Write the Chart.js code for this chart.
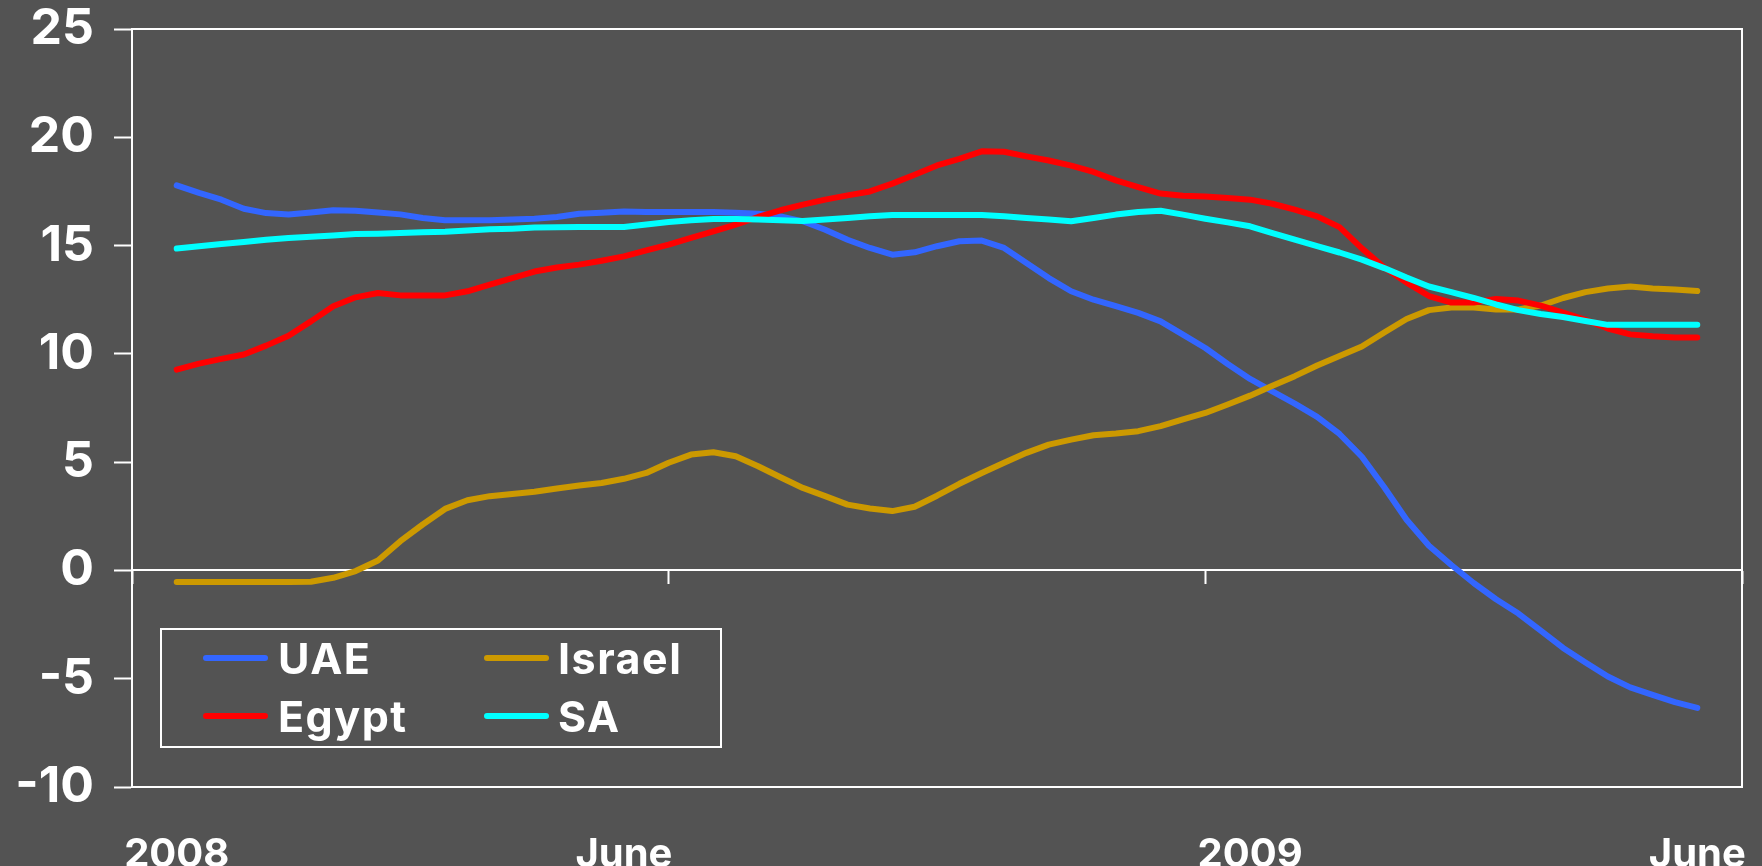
<!DOCTYPE html>
<html>
<head>
<meta charset="utf-8">
<script src="https://cdn.jsdelivr.net/npm/chart.js@4.4.1/dist/chart.umd.min.js"></script>
<style>
  html, body { margin: 0; padding: 0; background: #535353; overflow: hidden; }
  canvas { display: block; background: #535353; }
</style>
</head>
<body>
<canvas id="chart" width="1762" height="866"></canvas>
<script>
// Period axis: 73 slots, Jan 2008 .. Jun 2009; only a few slots carry a label.
const periodCount = 73;
const tickLabels = ['2008', 'June', '2009', 'June'];
const tickSlots = [2, 22, 50, 70];
const firstSlot = 2;

// Year-on-year rates (%), one value per slot from slot 2 to slot 70.
const uae = [
  17.78, 17.43, 17.12, 16.70, 16.50, 16.43, 16.53, 16.63, 16.61, 16.53,
  16.44, 16.27, 16.17, 16.17, 16.17, 16.20, 16.24, 16.32, 16.47, 16.52,
  16.57, 16.55, 16.55, 16.55, 16.55, 16.52, 16.47, 16.35, 16.12, 15.73,
  15.27, 14.89, 14.58, 14.69, 14.97, 15.20, 15.23, 14.89, 14.20, 13.50,
  12.89, 12.50, 12.20, 11.89, 11.50, 10.89, 10.27, 9.53, 8.84, 8.27,
  7.70, 7.09, 6.30, 5.25, 3.84, 2.34, 1.14, 0.25, -0.58, -1.33,
  -1.99, -2.78, -3.58, -4.25, -4.90, -5.40, -5.75, -6.08, -6.35
];
const israel = [
  -0.53, -0.53, -0.53, -0.53, -0.53, -0.53, -0.52, -0.34, -0.03, 0.46,
  1.35, 2.12, 2.84, 3.24, 3.43, 3.53, 3.63, 3.78, 3.92, 4.04,
  4.23, 4.50, 4.97, 5.35, 5.46, 5.27, 4.81, 4.30, 3.81, 3.43,
  3.04, 2.86, 2.74, 2.94, 3.45, 4.00, 4.50, 4.97, 5.43, 5.81,
  6.04, 6.24, 6.32, 6.43, 6.66, 6.97, 7.27, 7.66, 8.07, 8.53,
  8.97, 9.46, 9.90, 10.34, 10.99, 11.61, 12.02, 12.14, 12.14, 12.05,
  12.05, 12.23, 12.58, 12.85, 13.02, 13.11, 13.02, 12.97, 12.90
];
const egypt = [
  9.27, 9.55, 9.77, 9.97, 10.38, 10.84, 11.50, 12.20, 12.61, 12.81,
  12.70, 12.70, 12.70, 12.89, 13.20, 13.50, 13.80, 13.99, 14.12, 14.30,
  14.50, 14.78, 15.04, 15.35, 15.66, 15.97, 16.32, 16.63, 16.89, 17.12,
  17.32, 17.50, 17.86, 18.27, 18.70, 19.00, 19.35, 19.33, 19.12, 18.93,
  18.69, 18.40, 18.01, 17.70, 17.40, 17.30, 17.27, 17.20, 17.12, 16.93,
  16.66, 16.35, 15.85, 14.87, 13.99, 13.29, 12.67, 12.37, 12.37, 12.53,
  12.46, 12.23, 11.91, 11.57, 11.17, 10.90, 10.81, 10.76, 10.76
];
const sa = [
  14.86, 14.97, 15.07, 15.17, 15.27, 15.35, 15.41, 15.47, 15.53, 15.55,
  15.58, 15.61, 15.64, 15.70, 15.75, 15.78, 15.83, 15.85, 15.86, 15.86,
  15.86, 15.97, 16.09, 16.17, 16.23, 16.23, 16.20, 16.17, 16.13, 16.20,
  16.27, 16.35, 16.41, 16.41, 16.41, 16.41, 16.41, 16.35, 16.27, 16.20,
  16.12, 16.27, 16.43, 16.55, 16.61, 16.43, 16.24, 16.07, 15.89, 15.58,
  15.27, 14.97, 14.68, 14.35, 13.96, 13.52, 13.11, 12.85, 12.58, 12.28,
  12.02, 11.84, 11.70, 11.52, 11.34, 11.34, 11.34, 11.34, 11.34
];

const yTicks = { min: -10, max: 25, step: 5 };

// Slot labels: empty except at the labelled slots.
const categories = Array.from({ length: periodCount }, (_, i) => {
  const k = tickSlots.indexOf(i);
  return k >= 0 ? tickLabels[k] : '';
});

// Place a series on the slot axis, leaving the unused slots empty.
function onSlots(values) {
  const out = new Array(periodCount).fill(null);
  values.forEach((v, k) => { out[firstSlot + k] = v; });
  return out;
}

const FONT = 'Inter, "Liberation Sans", Arial, sans-serif';
const WHITE = '#ffffff';

function series(label, values, color, order) {
  return {
    label,
    data: onSlots(values),
    borderColor: color,
    backgroundColor: color,
    borderWidth: 6,
    borderCapStyle: 'round',
    borderJoinStyle: 'round',
    pointRadius: 0,
    pointHoverRadius: 0,
    tension: 0,
    fill: false,
    spanGaps: false,
    order
  };
}

// Two-column boxed legend sitting inside the plot area.
const boxedLegend = {
  id: 'boxedLegend',
  afterDatasetsDraw(chart, args, opts) {
    const ctx = chart.ctx;
    ctx.save();
    ctx.strokeStyle = WHITE;
    ctx.lineWidth = 2;
    ctx.strokeRect(opts.x, opts.y, opts.width, opts.height);
    ctx.font = 'bold ' + opts.fontSize + 'px ' + FONT;
    ctx.letterSpacing = opts.spacing;
    ctx.textAlign = 'left';
    ctx.textBaseline = 'alphabetic';
    chart.data.datasets.forEach((ds, k) => {
      const col = k % 2;
      const row = Math.floor(k / 2);
      const ly = opts.rowY[row];
      ctx.strokeStyle = ds.borderColor;
      ctx.lineWidth = ds.borderWidth;
      ctx.lineCap = 'round';
      ctx.beginPath();
      ctx.moveTo(opts.sampleX[col], ly);
      ctx.lineTo(opts.sampleX[col] + opts.sampleLength, ly);
      ctx.stroke();
      ctx.fillStyle = WHITE;
      ctx.fillText(ds.label, opts.textX[col], ly + opts.baselineShift);
    });
    ctx.restore();
  }
};

new Chart(document.getElementById('chart'), {
  type: 'line',
  data: {
    labels: categories,
    datasets: [
      series('UAE', uae, '#3366FF', 4),
      series('Israel', israel, '#CC9900', 3),
      series('Egypt', egypt, '#FF0000', 2),
      series('SA', sa, '#00FFFF', 1)
    ]
  },
  options: {
    responsive: false,
    devicePixelRatio: 1,
    animation: false,
    events: [],
    layout: { padding: 0 },
    plugins: {
      legend: { display: false },
      tooltip: { enabled: false },
      boxedLegend: {
        x: 161, y: 629, width: 560, height: 118,
        rowY: [658, 716],
        sampleX: [206, 487],
        sampleLength: 59,
        textX: [278, 558],
        baselineShift: 16,
        fontSize: 43,
        spacing: '1.5px'
      }
    },
    scales: {
      x: {
        type: 'category',
        position: 'bottom',
        offset: false,
        grid: { display: false },
        border: { display: true, color: WHITE, width: 2 },
        ticks: {
          autoSkip: false,
          maxRotation: 0,
          minRotation: 0,
          padding: 36,
          color: WHITE,
          font: { family: FONT, weight: 'bold', size: 40 }
        },
        afterFit(scale) {
          scale.height = 79;
          scale.paddingLeft = 0;
          scale.paddingRight = 0;
        }
      },
      xZero: {
        type: 'category',
        position: { y: 0 },
        offset: false,
        ticks: { display: false },
        grid: {
          display: true,
          drawOnChartArea: false,
          drawTicks: true,
          tickLength: 13,
          tickWidth: 2,
          tickColor: (c) => (c.index % 24 === 0 ? WHITE : 'rgba(0,0,0,0)')
        },
        border: { display: true, color: WHITE, width: 2 }
      },
      xTop: {
        type: 'category',
        position: 'top',
        ticks: { display: false },
        grid: { display: false },
        border: { display: true, color: WHITE, width: 2 },
        afterFit(scale) { scale.height = 29; }
      },
      y: {
        type: 'linear',
        position: 'left',
        min: yTicks.min,
        max: yTicks.max,
        ticks: {
          stepSize: yTicks.step,
          padding: 20,
          color: WHITE,
          font: { family: FONT, weight: 'bold', size: 50 }
        },
        grid: {
          display: true,
          drawOnChartArea: false,
          drawTicks: true,
          tickLength: 18,
          tickWidth: 2,
          tickColor: WHITE
        },
        border: { display: true, color: WHITE, width: 2 },
        afterFit(scale) {
          scale.width = 132;
          scale.paddingTop = 0;
          scale.paddingBottom = 0;
        }
      },
      yRight: {
        type: 'linear',
        position: 'right',
        ticks: { display: false },
        grid: { display: false },
        border: { display: true, color: WHITE, width: 2 },
        afterFit(scale) { scale.width = 20; }
      }
    }
  },
  plugins: [boxedLegend]
});
</script>
</body>
</html>
